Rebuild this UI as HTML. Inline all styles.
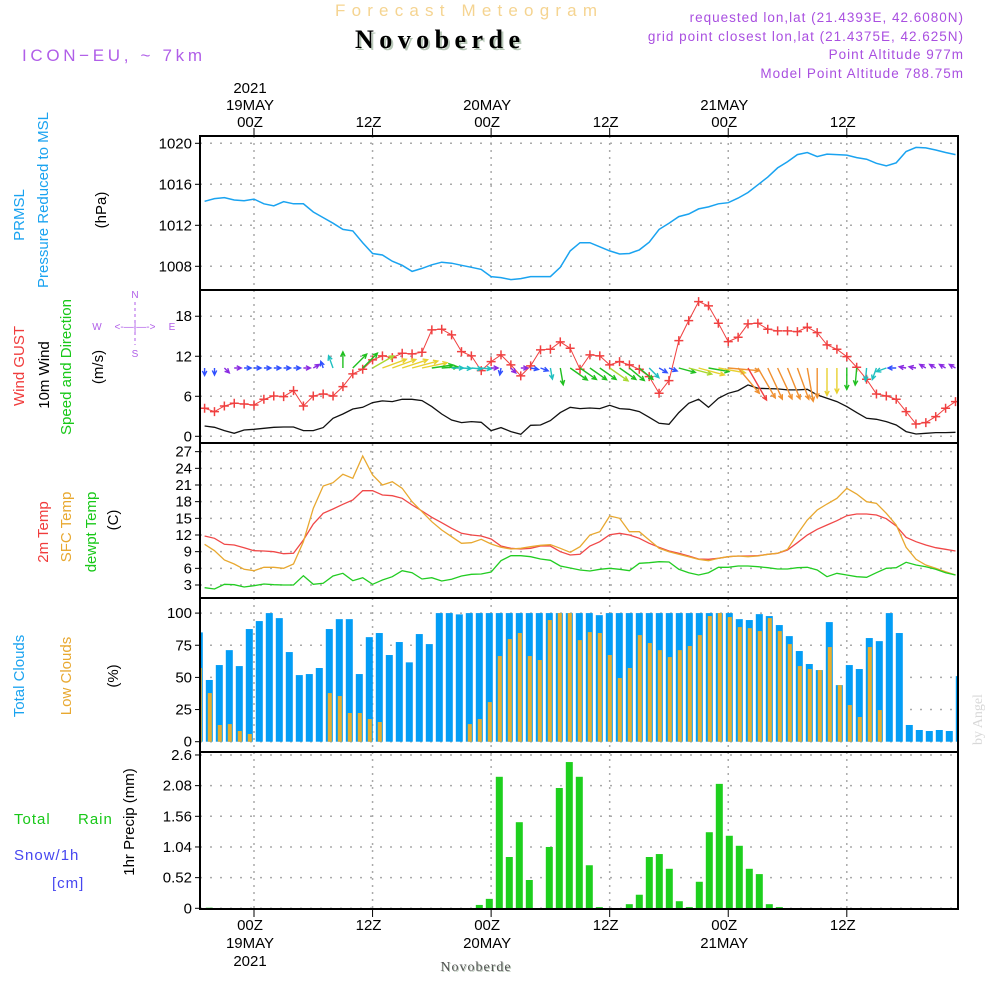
<!DOCTYPE html>
<html><head><meta charset="utf-8"><style>
html,body{margin:0;padding:0;background:#fff;}
svg{display:block;font-family:"Liberation Sans",sans-serif;}
</style></head><body>
<svg id="chart" width="1000" height="1000" viewBox="0 0 1000 1000" xmlns="http://www.w3.org/2000/svg">
<rect width="1000" height="1000" fill="#fff"/>
<text x="335" y="16" font-size="17" fill="#f5d491" textLength="262" lengthAdjust="spacing">Forecast Meteogram</text>
<text x="357" y="50" font-size="26" font-weight="bold" font-family="Liberation Serif,serif" fill="#b8c8b8" textLength="165" lengthAdjust="spacing">Novoberde</text>
<text x="355" y="48" font-size="26" font-weight="bold" font-family="Liberation Serif,serif" fill="#000" textLength="165" lengthAdjust="spacing">Novoberde</text>
<text x="22" y="61" font-size="17" fill="#b05ee8" textLength="180" lengthAdjust="spacing">ICON−EU, ~ 7km</text>
<g font-size="13.5" fill="#a94fe0" text-anchor="end" letter-spacing="1">
<text x="964" y="22">requested lon,lat (21.4393E, 42.6080N)</text>
<text x="964" y="41">grid point closest lon,lat (21.4375E, 42.625N)</text>
<text x="964" y="59">Point Altitude 977m</text>
<text x="964" y="78">Model Point Altitude 788.75m</text>
</g>
<g id="grid"></g>
<g id="marks"></g>
<g id="frames"></g>
<g id="labels" font-size="15" fill="#000"></g>
<g font-size="15">
<text transform="translate(24,215) rotate(-90)" text-anchor="middle" fill="#1aa3f0">PRMSL</text>
<text transform="translate(48,200) rotate(-90)" text-anchor="middle" fill="#1aa3f0">Pressure Reduced to MSL</text>
<text transform="translate(106,210) rotate(-90)" text-anchor="middle" fill="#000">(hPa)</text>
<text transform="translate(24,366) rotate(-90)" text-anchor="middle" fill="#f03c3c">Wind GUST</text>
<text transform="translate(49,375) rotate(-90)" text-anchor="middle" fill="#000">10m Wind</text>
<text transform="translate(71,367) rotate(-90)" text-anchor="middle" fill="#18c818">Speed and Direction</text>
<text transform="translate(103,367) rotate(-90)" text-anchor="middle" fill="#000">(m/s)</text>
<text transform="translate(48,532) rotate(-90)" text-anchor="middle" fill="#f03c3c">2m Temp</text>
<text transform="translate(71,527) rotate(-90)" text-anchor="middle" fill="#e8a830">SFC Temp</text>
<text transform="translate(96,532) rotate(-90)" text-anchor="middle" fill="#18c818">dewpt Temp</text>
<text transform="translate(118,520) rotate(-90)" text-anchor="middle" fill="#000">(C)</text>
<text transform="translate(24,676) rotate(-90)" text-anchor="middle" fill="#1aa3f0">Total Clouds</text>
<text transform="translate(71,676) rotate(-90)" text-anchor="middle" fill="#e8a830">Low Clouds</text>
<text transform="translate(118,676) rotate(-90)" text-anchor="middle" fill="#000">(%)</text>
<text transform="translate(134,822) rotate(-90)" text-anchor="middle" fill="#000">1hr Precip (mm)</text>
<text x="14" y="824" fill="#18c818" letter-spacing="1">Total</text>
<text x="78" y="824" fill="#18c818" letter-spacing="1">Rain</text>
<text x="14" y="860" fill="#4646f0" letter-spacing="1">Snow/1h</text>
<text x="52" y="888" fill="#4646f0" letter-spacing="1">[cm]</text>
</g>
<g font-size="10" fill="#b05ee8" text-anchor="middle">
<text x="135" y="298">N</text><text x="135" y="357">S</text><text x="97" y="330">W</text><text x="172" y="330">E</text>
<text x="135" y="330">&lt;-—|—-&gt;</text>
<line x1="135" y1="302" x2="135" y2="345" stroke="#b05ee8" stroke-dasharray="3,3"/>
</g>
<text transform="translate(982,745) rotate(-90)" font-size="14" font-family="Liberation Serif,serif" fill="#d8d8d8">by Angel</text>
<text x="477" y="972" font-size="14" font-family="Liberation Serif,serif" fill="#b8c8b8" text-anchor="middle" letter-spacing="1">Novoberde</text>
<text x="476" y="971" font-size="14" font-family="Liberation Serif,serif" fill="#555" text-anchor="middle" letter-spacing="1">Novoberde</text>
</svg>
<script>
// hours -5..71
const hours=[];for(let h=-5;h<=71;h++)hours.push(h);
const pressure=[1014.34,1014.6,1014.7,1014.47,1014.4,1014.56,1014.1,1013.9,1014.3,1014.1,1014.1,1013.3,1012.75,1012.2,1011.6,1011.45,1010.3,1009.25,1009.1,1008.5,1008.1,1007.5,1007.8,1008.15,1008.4,1008.3,1008.1,1007.9,1007.7,1007.0,1006.9,1006.7,1006.8,1007.0,1007.0,1007.0,1007.9,1009.5,1010.3,1010.3,
1009.9,1009.5,1009.2,1009.25,1009.6,1010.35,1011.6,1012.2,1012.85,1013.1,1013.6,1013.8,1014.1,1014.2,1014.65,1015.2,1015.95,1016.7,1017.6,1018.2,1018.9,1019.1,1018.7,1018.95,1018.9,1018.85,1018.6,1018.45,1018.05,1017.8,1018.1,1019.2,1019.6,1019.55,1019.35,1019.1,1018.9];
const gust=[4.2,3.7,4.55,4.95,4.85,4.7,5.55,6.05,5.95,6.85,4.55,6.05,6.35,6.05,7.45,9.35,10.05,11.45,12.05,11.8,12.45,12.35,12.6,15.95,16.05,15.2,12.7,12.05,9.85,11.2,12.2,10.7,9.05,10.55,12.95,13.05,14.15,13.2,10.05,12.2,
12.05,10.7,11.2,10.7,10.05,8.95,6.45,8.35,14.35,17.35,20.2,19.55,16.95,14.2,14.85,16.85,16.95,16.05,15.8,15.8,15.7,16.35,15.55,13.7,13.05,11.95,10.35,8.55,6.35,6.05,5.55,3.7,1.85,2.05,2.95,4.2,5.2];
const wind=[1.55,1.35,0.85,0.45,0.95,1.05,1.2,1.35,1.4,1.4,0.85,0.85,1.3,2.7,3.35,4.1,4.35,5.05,5.3,5.2,5.55,5.55,5.35,4.45,3.35,2.45,2.05,2.2,2.1,0.85,1.3,0.7,0.3,1.65,1.7,2.35,3.55,4.35,4.15,4.25,
4.15,4.65,4.15,4.05,3.7,2.85,1.95,1.8,3.55,4.95,5.55,4.35,5.7,6.45,6.85,7.7,7.2,7.15,7.1,6.95,6.95,7.05,6.2,5.7,5.2,4.45,3.55,2.7,2.55,2.2,1.7,0.7,0.35,0.45,0.55,0.55,0.6];
const windDir=[90,90,45,0,0,0,0,0,0,0,0,-30,-110,-110,-90,-45,-45,-30,-20,-20,-18,-15,-12,-8,-4,0,3,5,5,0,100,45,0,10,20,80,80,35,35,35,
35,35,35,40,40,45,30,20,15,15,15,10,10,5,50,60,60,65,65,68,70,80,90,90,90,90,95,95,110,160,180,190,190,210,210,210,210];
const temp2m=[11.82,11.4,10.32,10.2,9.72,9.18,9.12,9.0,8.64,8.7,11.1,13.98,15.9,16.68,17.52,18.3,19.98,19.98,19.2,19.08,18.6,17.4,16.32,15.18,14.22,13.2,12.3,12.0,11.82,11.28,10.02,9.6,9.48,9.6,10.02,10.02,9.0,8.4,8.52,10.02,
10.8,12.06,12.3,12.0,11.4,10.5,9.78,9.12,8.7,8.22,7.68,7.62,7.8,8.1,8.22,8.22,8.28,8.52,8.7,9.3,10.62,12.0,13.02,13.8,14.58,15.48,15.78,15.78,15.6,14.94,13.62,11.58,10.8,10.2,9.72,9.42,9.12];
const tempSfc=[10.32,9.18,7.5,6.78,5.82,5.58,6.18,6.18,6.0,6.78,10.8,16.8,20.82,21.42,22.92,22.2,26.22,22.8,21.0,21.6,20.4,18.0,16.2,14.4,12.9,11.7,10.5,10.62,11.22,10.38,9.78,9.48,9.6,9.9,10.14,10.26,9.6,8.88,9.9,12.0,
12.6,15.42,15.0,12.6,12.6,11.1,9.6,9.0,8.52,8.1,7.62,7.38,7.8,8.1,8.22,8.1,8.22,8.52,8.7,9.42,12.18,14.7,16.5,17.58,18.6,20.4,19.38,18.0,17.7,15.9,13.8,9.78,7.62,6.6,6.0,5.4,4.8];
const dewpt=[2.52,2.28,3.12,3.06,2.64,2.88,3.18,3.06,3.0,3.0,4.68,3.12,3.3,4.62,5.1,3.78,4.32,3.12,3.9,4.5,5.58,5.22,4.08,4.32,3.72,4.02,4.62,4.92,4.98,5.34,7.38,8.28,8.28,8.1,7.68,7.44,6.42,6.06,5.7,5.52,
5.82,6.0,5.82,5.58,6.9,7.02,7.2,7.14,5.82,5.22,4.8,5.22,6.18,6.18,6.42,6.42,6.3,6.12,5.88,5.88,6.12,6.18,5.7,4.5,5.1,4.8,4.5,4.38,5.22,6.0,6.12,7.08,6.6,6.3,5.82,5.22,4.8];
// bar series, 77 bars
const totalClouds=[85,48,59.6,71.2,58.8,87.6,93.8,100,96.1,69.7,51.8,52.6,57.3,87.6,95.3,95.3,52.6,81.3,84.5,67.4,77.5,61.7,83.7,75.9,100,100,99,100,100,100,100,100,100,100,100,100,100,100,100,100,
98.4,100,100,100,100,100,100,100,100,100,100,100,100,100,95.3,94.6,99.2,97.7,90.7,82.1,70.5,60.4,55.7,93,44,59.6,56.5,80.6,78.2,100,84.5,13,9.1,8.3,9.1,8.3,51];
const lowClouds=[57.3,37.8,13,13.7,8.3,6,0,0,0,0,0,0,0,37.8,35.5,22.3,22.3,17.6,15.3,0,0,0,0,0,0,0,0,13.7,17.6,30.8,66.6,79.8,84.5,66.6,63.5,94.6,100,100,79,85.2,
84.5,67.4,49.5,57.3,82.9,76.7,71.2,65.8,71.2,74.4,82.9,97.7,100,96.9,89.1,88.3,86,96.1,86,75.9,58.8,56.5,55.7,73.6,44,28.5,19.2,73.6,24.6,0,0,0,0,0,0,0,0];
const precip=[0,0.01,0,0,0,0,0,0,0,0,0,0,0,0,0,0,0,0,0,0,0,0,0,0,0,0,0,0,0.057,0.16,2.23,0.87,1.46,0.48,0,1.04,2.04,2.48,2.23,0.73,
0.02,0,0,0.07,0.23,0.87,0.92,0.67,0.12,0.02,0.45,1.29,2.11,1.23,1.06,0.67,0.58,0.07,0.02,0,0,0,0,0,0,0,0,0,0,0,0,0,0,0,0,0,0];
const pTicks=[1008,1012,1016,1020], wTicks=[0,6,12,18], tTicks=[3,6,9,12,15,18,21,24,27], cTicks=[0,25,50,75,100], rTicks=[0,0.52,1.04,1.56,2.08,2.6];
const timeTicks=[0,12,24,36,48,60];
const timeLabels=["00Z","12Z","00Z","12Z","00Z","12Z"];
const dayLabels=["19MAY","","20MAY","","21MAY",""];

const L=200,R=958;
const x=h=>254+9.88*h;
const bx=i=>199.3+10*i;
const py=v=>266.3-(v-1008)*10.25;
const wy=v=>436.3-v*6.67;
const ty=v=>585-(v-3)*5.556;
const cy=v=>741.7-v*1.286;
const ry=v=>908.3-v*58.97;
const panels=[[136,290],[290,443],[443,598],[598,752],[752,909]];
const NS="http://www.w3.org/2000/svg";
function mk(tag,attrs,parent){const e=document.createElementNS(NS,tag);for(const k in attrs)e.setAttribute(k,attrs[k]);parent.appendChild(e);return e;}
const grid=document.getElementById('grid'),marks=document.getElementById('marks'),frames=document.getElementById('frames'),labels=document.getElementById('labels');
const defs=mk('defs',{},document.getElementById('chart'));
const cp=mk('clipPath',{id:'plotclip'},defs);mk('rect',{x:L,y:136,width:R-L,height:773},cp);
marks.setAttribute('clip-path','url(#plotclip)');
function hgrid(ticks,fy,name){ticks.forEach(t=>{const l=mk('line',{x1:L,x2:R,y1:fy(t),y2:fy(t),stroke:'#aaa','stroke-dasharray':'2,8','stroke-width':1.5},grid);


const tx=mk('text',{x:192,y:fy(t)+5,'text-anchor':'end'},labels);tx.textContent=String(t);


mk('line',{x1:L-5,x2:L,y1:fy(t),y2:fy(t),stroke:'#000'},labels);});}
hgrid(pTicks,py,'pressure-gridline');hgrid(wTicks,wy,'wind-gridline');hgrid(tTicks,ty,'temp-gridline');hgrid(cTicks,cy,'cloud-gridline');hgrid(rTicks,ry,'precip-gridline');
timeTicks.forEach((h,i)=>{const l=mk('line',{x1:x(h),x2:x(h),y1:136,y2:909,stroke:'#aaa','stroke-dasharray':'2,5','stroke-width':1.5},grid);


mk('line',{x1:x(h),x2:x(h),y1:128,y2:136,stroke:'#000'},labels);
mk('line',{x1:x(h),x2:x(h),y1:909,y2:917,stroke:'#000'},labels);
const t=mk('text',{x:x(h)-4,y:127,'text-anchor':'middle'},labels);t.textContent=timeLabels[i];


const b=mk('text',{x:x(h)-4,y:930,'text-anchor':'middle'},labels);b.textContent=timeLabels[i];


if(dayLabels[i]){const d=mk('text',{x:x(h)-4,y:110,'text-anchor':'middle'},labels);d.textContent=dayLabels[i];


const d2=mk('text',{x:x(h)-4,y:948,'text-anchor':'middle'},labels);d2.textContent=dayLabels[i];

}});
const y1=mk('text',{x:x(0)-4,y:93,'text-anchor':'middle'},labels);y1.textContent='2021';


const y2=mk('text',{x:x(0)-4,y:966,'text-anchor':'middle'},labels);y2.textContent='2021';


panels.forEach((p,i)=>{const r=mk('rect',{x:L,y:p[0],width:R-L,height:p[1]-p[0],fill:'none',stroke:'#000','stroke-width':2},frames);

});
totalClouds.forEach((v,i)=>{const r=mk('rect',{x:bx(i)-3.5,y:cy(v),width:7,height:cy(0)-cy(v),fill:'#039df5'},marks);

});
lowClouds.forEach((v,i)=>{if(v<=0)return;const r=mk('rect',{x:bx(i)-1.5,y:cy(v),width:4,height:cy(0)-cy(v),fill:'#e8ae2e'},marks);

});
precip.forEach((v,i)=>{if(v<=0)return;const r=mk('rect',{x:bx(i)-3.5,y:ry(v),width:7,height:ry(0)-ry(v),fill:'#1ecf1e'},marks);

});
function line(arr,fy,color,name,w){const d=arr.map((v,i)=>(i?'L':'M')+x(hours[i]).toFixed(1)+','+fy(v).toFixed(1)).join('');
const p=mk('path',{d:d,fill:'none',stroke:color,'stroke-width':w||1.3},marks);

}
line(pressure,py,'#1aa3f0','pressure-line',1.5);
line(wind,wy,'#111','wind-speed-line');
line(gust,wy,'#f04040','wind-gust-line',1);
gust.forEach((v,i)=>{const cx=x(hours[i]),c=wy(v);
const g=mk('path',{d:`M${cx-4.5},${c}H${cx+4.5}M${cx},${c-4.5}V${c+4.5}`,stroke:'#f04040','stroke-width':1.5},marks);

});
line(temp2m,ty,'#f04848','temp-2m-line');
line(tempSfc,ty,'#e8a830','temp-sfc-line');
line(dewpt,ty,'#22cc22','dewpoint-line');
function spdColor(s){if(s<0.9)return '#8a2be2';if(s<2)return '#3050ff';if(s<3)return '#20c0c0';if(s<4.6)return '#20c020';if(s<5.1)return '#a8d830';if(s<6.2)return '#e8d030';if(s<7.5)return '#f09030';return '#f04040';}
windDir.forEach((a,i)=>{const s=wind[i],len=Math.max(7,4.8*s),r=a*Math.PI/180;
const x0=x(hours[i]),y0=368,x1=x0+len*Math.cos(r),y1=y0+len*Math.sin(r);
const hl=5,a1=r+Math.PI-0.45,a2=r+Math.PI+0.45;
const d=`M${x0.toFixed(1)},${y0}L${x1.toFixed(1)},${y1.toFixed(1)}M${(x1+hl*Math.cos(a1)).toFixed(1)},${(y1+hl*Math.sin(a1)).toFixed(1)}L${x1.toFixed(1)},${y1.toFixed(1)}L${(x1+hl*Math.cos(a2)).toFixed(1)},${(y1+hl*Math.sin(a2)).toFixed(1)}`;
const p=mk('path',{d:d,fill:'none',stroke:spdColor(s),'stroke-width':1.4},marks);

});
</script>
</body></html>
